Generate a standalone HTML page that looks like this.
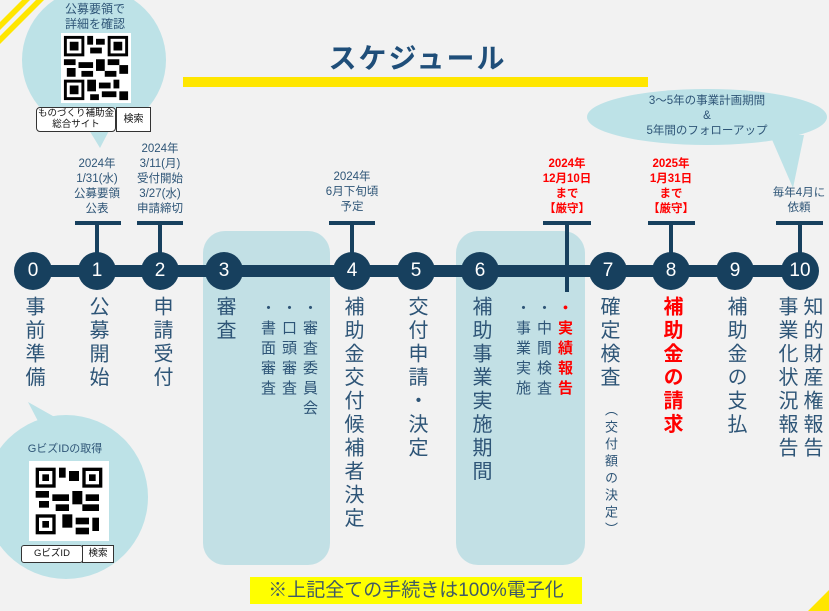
<!DOCTYPE html>
<html><head><meta charset="utf-8"><style>
body{margin:0;width:829px;height:611px;background:#f2f2f2;position:relative;overflow:hidden;font-family:"Liberation Sans","Noto Sans CJK JP",sans-serif;color:#2e5577}
.a{position:absolute}
.v{position:absolute;writing-mode:vertical-rl;font-size:20px;line-height:20px;letter-spacing:3.5px;color:#2e5577;white-space:nowrap}
.c{position:absolute;width:38px;height:38px;border-radius:50%;background:#17405e;color:#fff;font-size:19px;line-height:38px;text-align:center}
.t{position:absolute;text-align:center;font-size:11.5px;line-height:15px;color:#2e5577;white-space:nowrap}
.r{color:#ff0000;font-weight:bold}
.bar{position:absolute;background:#17405e}
.panel{position:absolute;background:#c2e0e5;border-radius:22px}
.sv{font-size:15px;line-height:15px;letter-spacing:5px}
</style></head><body>
<svg class="a" style="left:0;top:0" width="829" height="611">
<polygon points="0,22 22,0 30,0 0,30" fill="#ffe600"/>
<polygon points="0,36 36,0 44,0 0,44" fill="#ffe600"/>
<polygon points="829,590 829,611 808,611" fill="#ffe600"/>
<circle cx="94" cy="60" r="72" fill="#bde2e7"/>
<polygon points="86,125 112,125 100,148" fill="#bde2e7"/>
<circle cx="66" cy="497" r="82" fill="#bde2e7"/>
<polygon points="28,402 40,425 60,420" fill="#bde2e7"/>
<ellipse cx="707" cy="117" rx="120" ry="28" fill="#bde2e7"/>
<polygon points="770,135 804,135 793,188" fill="#bde2e7"/>
</svg>
<div class="panel" style="left:203px;top:231px;width:127px;height:334px"></div>
<div class="panel" style="left:456px;top:231px;width:129px;height:334px"></div>
<div class="a" style="left:0;top:37px;width:829px;text-align:center;font-size:28px;font-weight:bold;color:#1f4e79;letter-spacing:2px"><span style="position:relative;left:3px">スケジュール</span></div>
<div class="a" style="left:183px;top:77px;width:465px;height:10px;background:#ffe600"></div>
<div class="bar" style="left:30px;top:265px;width:775px;height:12px"></div>
<div class="bar" style="left:75px;top:221px;width:46px;height:4px"></div><div class="bar" style="left:95px;top:221px;width:4px;height:45px"></div>
<div class="bar" style="left:137px;top:221px;width:46px;height:4px"></div><div class="bar" style="left:158px;top:221px;width:4px;height:45px"></div>
<div class="bar" style="left:329px;top:221px;width:46px;height:4px"></div><div class="bar" style="left:350px;top:221px;width:4px;height:45px"></div>
<div class="bar" style="left:543px;top:221px;width:48px;height:4px"></div><div class="bar" style="left:565px;top:221px;width:4px;height:71px"></div>
<div class="bar" style="left:648px;top:221px;width:47px;height:4px"></div><div class="bar" style="left:669px;top:221px;width:4px;height:45px"></div>
<div class="bar" style="left:776px;top:221px;width:47px;height:4px"></div><div class="bar" style="left:798px;top:221px;width:4px;height:45px"></div>
<div class="c" style="left:14px;top:252px">0</div>
<div class="c" style="left:78px;top:252px">1</div>
<div class="c" style="left:141px;top:252px">2</div>
<div class="c" style="left:205px;top:252px">3</div>
<div class="c" style="left:333px;top:252px">4</div>
<div class="c" style="left:397px;top:252px">5</div>
<div class="c" style="left:461px;top:252px">6</div>
<div class="c" style="left:589px;top:252px">7</div>
<div class="c" style="left:652px;top:252px">8</div>
<div class="c" style="left:716px;top:252px">9</div>
<div class="c" style="left:781px;top:252px">10</div>
<div class="v" style="left:23px;top:296px">事前準備</div>
<div class="v" style="left:87px;top:296px">公募開始</div>
<div class="v" style="left:151px;top:296px">申請受付</div>
<div class="v" style="left:214px;top:296px">審査</div>
<div class="v sv" style="left:302px;top:300px">・審査委員会</div>
<div class="v sv" style="left:281px;top:300px">・口頭審査</div>
<div class="v sv" style="left:260px;top:300px">・書面審査</div>
<div class="v" style="left:342px;top:296px">補助金交付候補者決定</div>
<div class="v" style="left:406px;top:296px">交付申請・決定</div>
<div class="v" style="left:470px;top:296px">補助事業実施期間</div>
<div class="v sv r" style="left:557px;top:300px">・実績報告</div>
<div class="v sv" style="left:536px;top:300px">・中間検査</div>
<div class="v sv" style="left:515px;top:300px">・事業実施</div>
<div class="v" style="left:598px;top:296px">確定検査</div>
<div class="v" style="left:604px;top:403px;font-size:13px;line-height:13px;letter-spacing:4px">（交付額の決定）</div>
<div class="v r" style="left:661px;top:296px">補助金の請求</div>
<div class="v" style="left:725px;top:296px">補助金の支払</div>
<div class="v" style="left:801px;top:296px">知的財産権報告</div>
<div class="v" style="left:776px;top:296px">事業化状況報告</div>
<div class="t" style="left:57px;top:157px;width:80px">2024年<br>1/31(水)<br>公募要領<br>公表</div>
<div class="t" style="left:120px;top:142px;width:80px">2024年<br>3/11(月)<br>受付開始<br>3/27(水)<br>申請締切</div>
<div class="t" style="left:312px;top:170px;width:80px">2024年<br>6月下旬頃<br>予定</div>
<div class="t r" style="left:527px;top:157px;width:80px">2024年<br>12月10日<br>まで<br>【厳守】</div>
<div class="t r" style="left:631px;top:157px;width:80px">2025年<br>1月31日<br>まで<br>【厳守】</div>
<div class="t" style="left:759px;top:186px;width:80px">毎年4月に<br>依頼</div>
<div class="t" style="left:587px;top:94px;width:240px">3～5年の事業計画期間<br>&amp;<br>5年間のフォローアップ</div>
<div class="t" style="left:40px;top:2px;width:110px;font-size:12px">公募要領で<br>詳細を確認</div>
<div class="t" style="left:10px;top:442px;width:110px;font-size:11px">GビズIDの取得</div>
<svg class="a" style="left:60px;top:33px" width="72" height="70" viewBox="0 0 24 24">
<rect width="24" height="24" fill="#fff"/>
<g fill="#000">
<rect x="1" y="1" width="7" height="7"/><rect x="16" y="1" width="7" height="7"/><rect x="1" y="16" width="7" height="7"/>
</g><g fill="#fff"><rect x="2" y="2" width="5" height="5"/><rect x="17" y="2" width="5" height="5"/><rect x="2" y="17" width="5" height="5"/></g>
<g fill="#000"><rect x="3" y="3" width="3" height="3"/><rect x="18" y="3" width="3" height="3"/><rect x="3" y="18" width="3" height="3"/>
<rect x="9" y="1" width="2" height="3"/><rect x="12" y="2" width="3" height="2"/><rect x="10" y="5" width="4" height="2"/><rect x="1" y="9" width="4" height="2"/><rect x="6" y="10" width="5" height="2"/><rect x="12" y="9" width="3" height="4"/><rect x="16" y="9" width="4" height="2"/><rect x="20" y="11" width="3" height="3"/><rect x="2" y="12" width="3" height="3"/><rect x="7" y="13" width="4" height="2"/><rect x="15" y="13" width="4" height="2"/><rect x="9" y="16" width="3" height="4"/><rect x="13" y="17" width="4" height="2"/><rect x="18" y="16" width="2" height="3"/><rect x="14" y="20" width="5" height="2"/><rect x="20" y="20" width="3" height="3"/><rect x="10" y="21" width="3" height="2"/></g></svg>
<svg class="a" style="left:29px;top:461px" width="80" height="80" viewBox="0 0 24 24">
<rect width="24" height="24" fill="#fff"/>
<g fill="#000">
<rect x="2" y="2" width="6" height="6"/><rect x="16" y="2" width="6" height="6"/><rect x="2" y="16" width="6" height="6"/>
</g><g fill="#fff"><rect x="3" y="3" width="4" height="4"/><rect x="17" y="3" width="4" height="4"/><rect x="3" y="17" width="4" height="4"/></g>
<g fill="#000"><rect x="4" y="4" width="2" height="2"/><rect x="18" y="4" width="2" height="2"/><rect x="4" y="18" width="2" height="2"/>
<rect x="9" y="2" width="2" height="3"/><rect x="12" y="3" width="3" height="3"/><rect x="2" y="9" width="4" height="2"/><rect x="7" y="10" width="5" height="2"/><rect x="13" y="9" width="3" height="4"/><rect x="17" y="10" width="4" height="2"/><rect x="3" y="12" width="3" height="2"/><rect x="8" y="13" width="4" height="2"/><rect x="16" y="13" width="5" height="2"/><rect x="10" y="16" width="3" height="4"/><rect x="14" y="17" width="4" height="2"/><rect x="19" y="17" width="2" height="4"/><rect x="14" y="20" width="4" height="2"/></g></svg>
<div class="a" style="left:36px;top:107px;width:78px;height:23px;border:1px solid #333;border-radius:4px;background:#fff;font-size:9.5px;line-height:11px;color:#111;text-align:center">ものづくり補助金<br>総合サイト</div>
<div class="a" style="left:116px;top:107px;width:33px;height:23px;border:1px solid #333;background:#fff;font-size:10px;line-height:23px;color:#111;text-align:center">検索</div>
<div class="a" style="left:21px;top:545px;width:60px;height:16px;border:1px solid #333;border-radius:3px;background:#fff;font-size:9.5px;line-height:16px;color:#111;text-align:center">GビズID</div>
<div class="a" style="left:82px;top:545px;width:30px;height:16px;border:1px solid #333;background:#fff;font-size:9.5px;line-height:16px;color:#111;text-align:center">検索</div>
<div class="a" style="left:250px;top:577px;width:332px;height:27px;background:#ffff00;font-size:19px;line-height:27px;color:#3f5a66;text-align:center;white-space:nowrap">※上記全ての手続きは100%電子化</div>
</body></html>
